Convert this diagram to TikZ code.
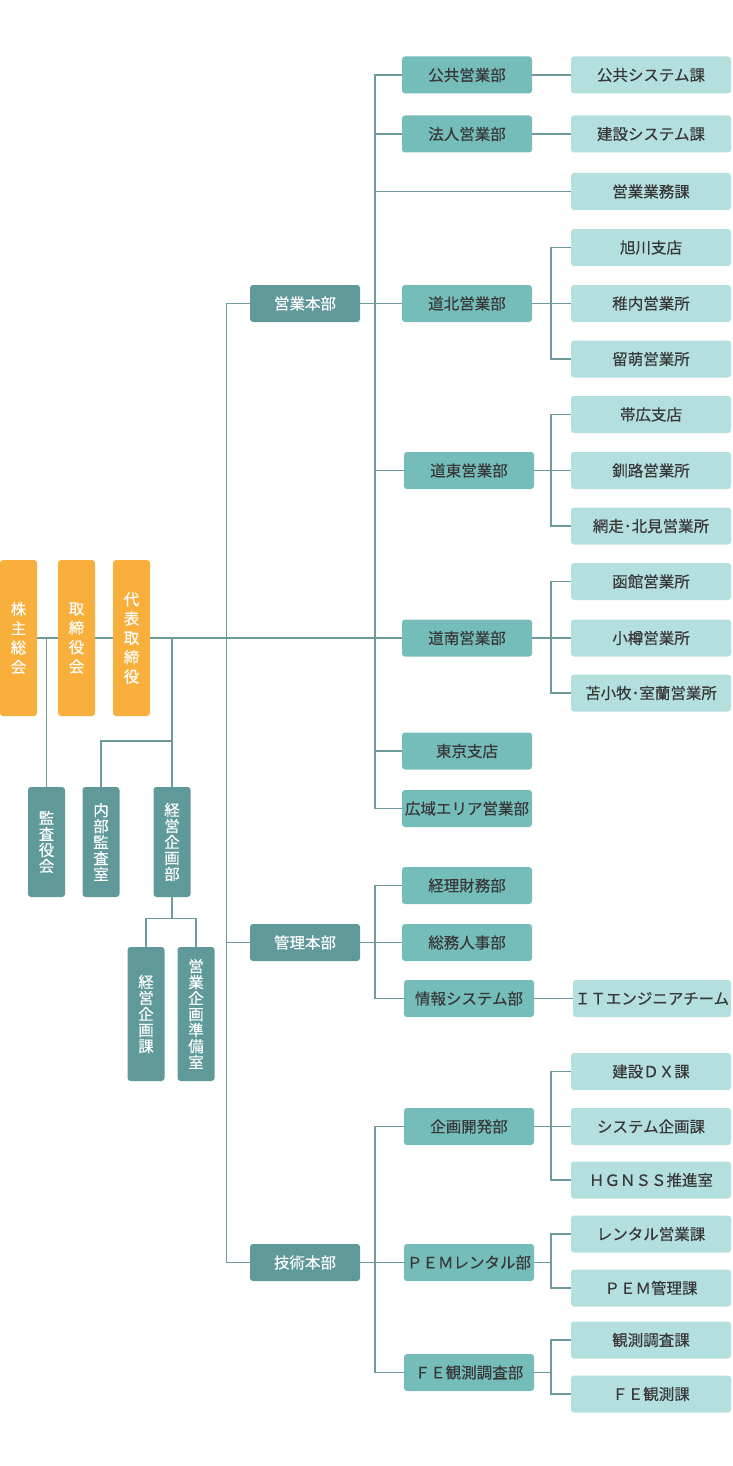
\documentclass[tikz,border=0pt]{standalone}
\usepackage{fontspec}
\setmainfont[FakeBold=0.3]{Noto Sans CJK JP}
\definecolor{orangebox}{HTML}{F9AF3B}
\definecolor{darkteal}{HTML}{5F9999}
\definecolor{midteal}{HTML}{74BDBB}
\definecolor{lightteal}{HTML}{B3DFDE}
\definecolor{linecol}{HTML}{6D9A9A}
\definecolor{textcol}{HTML}{383838}
\begin{document}
\begin{tikzpicture}[x=1pt, y=-1pt,
    font=\fontsize{15.5}{20}\selectfont,
    every node/.style={inner sep=0pt, rounded corners=3pt, align=center},
    board/.style={fill=orangebox, text=white, minimum width=37pt, minimum height=156pt,
        font=\fontsize{15.5}{19.3}\selectfont},
    staff/.style={fill=darkteal, text=white, minimum width=37pt,
        font=\fontsize{15.5}{16}\selectfont},
    hq/.style={fill=darkteal, text=white, minimum width=110pt, minimum height=37pt},
    dept/.style={fill=midteal, text=textcol, minimum width=130pt, minimum height=37pt},
    sect/.style={fill=lightteal, text=textcol, minimum width=160pt, minimum height=37pt},
    link/.style={draw=linecol, line width=1.3pt}]
    \useasboundingbox (0,0) rectangle (733,1466);

    % Nodi
    \node[board] (kabu) at (18.5,638) {株\\主\\総\\会};
    \node[board] (tori) at (76.5,638) {取\\締\\役\\会};
    \node[board] (daihyo) at (131.5,638) {代\\表\\取\\締\\役};

    \node[staff, minimum height=110pt] (kansa) at (46.5,842) {監\\査\\役\\会};
    \node[staff, minimum height=110pt] (naibu) at (101,842) {内\\部\\監\\査\\室};
    \node[staff, minimum height=110pt] (keiei) at (172,842) {経\\営\\企\\画\\部};
    \node[staff, minimum height=134pt] (keika) at (146,1014) {経\\営\\企\\画\\課};
    \node[staff, minimum height=134pt] (junbi) at (196,1014) {営\\業\\企\\画\\準\\備\\室};

    \node[hq] (eigyo) at (305,303.5) {営業本部};
    \node[hq] (kanri) at (305,942.5) {管理本部};
    \node[hq] (gijutsu) at (305,1262.5) {技術本部};

    \node[dept] (kokyo) at (467,75) {公共営業部};
    \node[dept] (hojin) at (467,134) {法人営業部};
    \node[dept] (douhoku) at (467,303.5) {道北営業部};
    \node[dept] (doutou) at (469,470.5) {道東営業部};
    \node[dept] (dounan) at (467,638) {道南営業部};
    \node[dept] (tokyo) at (467,751) {東京支店};
    \node[dept] (koiki) at (467,808.5) {広域エリア営業部};
    \node[dept] (keiri) at (467,885.5) {経理財務部};
    \node[dept] (soumu) at (467,942.5) {総務人事部};
    \node[dept] (joho) at (469,998.5) {情報システム部};
    \node[dept] (kikaku) at (469,1126.5) {企画開発部};
    \node[dept] (pem) at (469,1262.5) {ＰＥＭレンタル部};
    \node[dept] (fe) at (469,1372.5) {ＦＥ観測調査部};

    \node[sect] (kokyosys) at (651,75) {公共システム課};
    \node[sect] (kensetsu) at (651,134) {建設システム課};
    \node[sect] (gyomu) at (651,191.5) {営業業務課};
    \node[sect] (asahikawa) at (651,247.5) {旭川支店};
    \node[sect] (wakkanai) at (651,303.5) {稚内営業所};
    \node[sect] (rumoi) at (651,359) {留萌営業所};
    \node[sect] (obihiro) at (651,414.5) {帯広支店};
    \node[sect] (kushiro) at (651,470.5) {釧路営業所};
    \node[sect] (abashiri) at (651,526) {網走･北見営業所};
    \node[sect] (hakodate) at (651,581.5) {函館営業所};
    \node[sect] (otaru) at (651,638) {小樽営業所};
    \node[sect] (tomakomai) at (651,693) {苫小牧･室蘭営業所};
    \node[sect, minimum width=158pt] (it) at (652,998.5) {ＩＴエンジニアチーム};
    \node[sect] (dx) at (651,1071.5) {建設ＤＸ課};
    \node[sect] (sysk) at (651,1126.5) {システム企画課};
    \node[sect] (hgnss) at (651,1180) {ＨＧＮＳＳ推進室};
    \node[sect] (rental) at (651,1234) {レンタル営業課};
    \node[sect] (pemk) at (651,1288) {ＰＥＭ管理課};
    \node[sect] (kansoku) at (651,1340) {観測調査課};
    \node[sect] (fekan) at (651,1394) {ＦＥ観測課};

    \coordinate (sb) at (375,0);
    \coordinate (sc) at (551,0);
    \coordinate (j1) at (172,741);

    % Archi
    \draw[link] (kabu.east) -- (tori.west);
    \draw[link] (tori.east) -- (daihyo.west);
    \draw[link] (daihyo.east) -- (dounan.west);
    \draw[link] (kansa.north) -- (kansa.north |- kabu.east);
    \draw[link] (keiei.north) -- (keiei.north |- daihyo.east);
    \draw[link] (naibu.north) |- (j1);
    \draw[link] (keiei.south) -- ++(0,21) coordinate (j2);
    \draw[link] (keika.north) |- (j2) -| (junbi.north);

    \draw[link] (eigyo.west) -- ++(-23,0) |- (gijutsu.west);
    \draw[link] (kanri.west) -- ++(-23,0);

    \draw[link] (eigyo.east) -- (douhoku.west);
    \draw[link] (kokyo.west) -- (kokyo.west -| sb) -- (koiki.west -| sb) -- (koiki.west);
    \draw[link] (hojin.west) -- (hojin.west -| sb);
    \draw[link] (gyomu.west) -- (gyomu.west -| sb);
    \draw[link] (doutou.west) -- (doutou.west -| sb);
    \draw[link] (tokyo.west) -- (tokyo.west -| sb);
    \draw[link] (kokyo.east) -- (kokyosys.west);
    \draw[link] (hojin.east) -- (kensetsu.west);
    \draw[link] (douhoku.east) -- (wakkanai.west);
    \draw[link] (asahikawa.west) -- (asahikawa.west -| sc) -- (rumoi.west -| sc) -- (rumoi.west);
    \draw[link] (doutou.east) -- (kushiro.west);
    \draw[link] (obihiro.west) -- (obihiro.west -| sc) -- (abashiri.west -| sc) -- (abashiri.west);
    \draw[link] (dounan.east) -- (otaru.west);
    \draw[link] (hakodate.west) -- (hakodate.west -| sc) -- (tomakomai.west -| sc) -- (tomakomai.west);

    \draw[link] (kanri.east) -- (soumu.west);
    \draw[link] (keiri.west) -- (keiri.west -| sb) -- (joho.west -| sb) -- (joho.west);
    \draw[link] (joho.east) -- (it.west);

    \draw[link] (gijutsu.east) -- (pem.west);
    \draw[link] (kikaku.west) -- (kikaku.west -| sb) -- (fe.west -| sb) -- (fe.west);
    \draw[link] (kikaku.east) -- (sysk.west);
    \draw[link] (dx.west) -- (dx.west -| sc) -- (hgnss.west -| sc) -- (hgnss.west);
    \draw[link] (pem.east) -- (pem.east -| sc);
    \draw[link] (rental.west) -- (rental.west -| sc) -- (pemk.west -| sc) -- (pemk.west);
    \draw[link] (fe.east) -- (fe.east -| sc);
    \draw[link] (kansoku.west) -- (kansoku.west -| sc) -- (fekan.west -| sc) -- (fekan.west);
\end{tikzpicture}
\end{document}
